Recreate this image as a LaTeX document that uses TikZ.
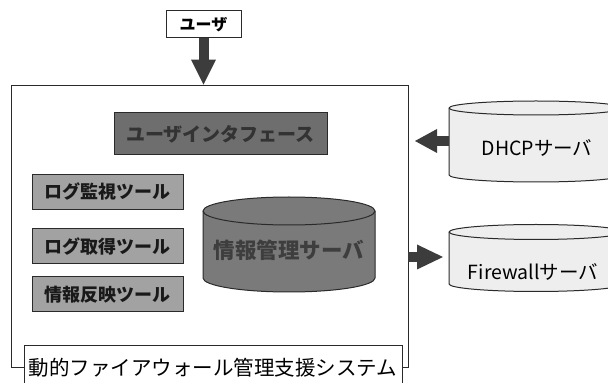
\documentclass[tikz,border=0pt]{standalone}
\usepackage{fontspec}
\newfontfamily\jp{Noto Sans CJK JP}
\usetikzlibrary{arrows.meta}
\definecolor{uigray}{HTML}{6E6E6E}
\definecolor{uitext}{HTML}{333333}
\definecolor{toolgray}{HTML}{A2A2A2}
\definecolor{dbgray}{HTML}{7A7A7A}
\definecolor{dbtext}{HTML}{3E3E3E}
\definecolor{lightcyl}{HTML}{EEEEEE}
\definecolor{arrowgray}{HTML}{3C3C3C}
\definecolor{linegray}{HTML}{2A2A2A}
\begin{document}
\begin{tikzpicture}[x=1pt,y=1pt,
  box/.style={draw=linegray, line width=1pt, inner sep=0pt},
  userbox/.style={box, fill=white, minimum width=75pt, minimum height=27pt, font=\jp\bfseries\fontsize{16}{16}\selectfont},
  mainbox/.style={box, line width=0.9pt, minimum width=397pt, minimum height=282pt},
  titlebox/.style={box, fill=white, minimum width=378pt, minimum height=45pt, font=\jp\fontsize{20.5}{20.5}\selectfont},
  uibox/.style={box, fill=uigray, text=uitext, minimum width=213pt, minimum height=42pt, font=\jp\bfseries\fontsize{19}{19}\selectfont},
  toolbox/.style={box, fill=toolgray, text=black!90, minimum width=151pt, minimum height=35pt, font=\jp\bfseries\fontsize{18}{18}\selectfont},
  cyl/.style={draw=linegray, line width=1pt},
  dbtextstyle/.style={text=dbtext, font=\jp\bfseries\fontsize{21.5}{21.5}\selectfont},
  srvtext/.style={text=black, font=\jp\fontsize{19.5}{19.5}\selectfont},
  bigarrow/.style={draw=arrowgray, line width=10pt, -{Triangle[width=25pt,length=25pt,line width=0pt]}}
]
\useasboundingbox (0,0) rectangle (608,383);
\clip (0,0) rectangle (608,383);

% main system box and title
\node[mainbox] (main) at (209.5,157) {};
\node[titlebox, anchor=north] (title) at (213,38) {動的ファイアウォール管理支援システム};

% user
\node[userbox] (user) at (203.5,358.5) {ユーザ};
\draw[bigarrow] (user.south) -- (user.south |- main.north);

% user interface
\node[uibox] (ui) at (220.5,249) {ユーザインタフェース};

% tools
\node[toolbox] (t1) at (107.5,191) {ログ監視ツール};
\node[toolbox] (t2) at (107.5,136.5) {ログ取得ツール};
\node[toolbox] (t3) at (107.5,88.5) {情報反映ツール};

% info management server cylinder
\filldraw[cyl, fill=dbgray] (203,172) -- (203,105) arc[start angle=180, end angle=360, x radius=86, y radius=14] -- (375,172) arc[start angle=0, end angle=180, x radius=86, y radius=14] -- cycle;
\draw[cyl] (203,172) arc[start angle=180, end angle=360, x radius=86, y radius=14];
\node[dbtextstyle] (db) at (289,133) {情報管理サーバ};

% DHCP server cylinder
\filldraw[cyl, fill=lightcyl] (449,275) -- (449,208) arc[start angle=180, end angle=360, x radius=87, y radius=7] -- (623,275) arc[start angle=0, end angle=180, x radius=87, y radius=7] -- cycle;
\draw[cyl] (449,275) arc[start angle=180, end angle=360, x radius=87, y radius=7];
\node[srvtext] (dhcp) at (537,235) {DHCPサーバ};
\coordinate (dhcpW) at (449,242);
\coordinate (dhcpT) at (415,242);
\draw[bigarrow, -{Triangle[width=24pt,length=22pt,line width=0pt]}] (dhcpW) -- (dhcpT);

% Firewall server cylinder
\filldraw[cyl, fill=lightcyl] (449,151) -- (449,99) arc[start angle=180, end angle=360, x radius=87, y radius=7.5] -- (623,151) arc[start angle=0, end angle=180, x radius=87, y radius=7.5] -- cycle;
\draw[cyl] (449,151) arc[start angle=180, end angle=360, x radius=87, y radius=7.5];
\node[srvtext] (fw) at (533,111) {Firewallサーバ};
\coordinate (fwT) at (443,126);
\draw[bigarrow, -{Triangle[width=25pt,length=26pt,line width=0pt]}] (main.east |- fwT) -- (fwT);
\end{tikzpicture}
\end{document}
